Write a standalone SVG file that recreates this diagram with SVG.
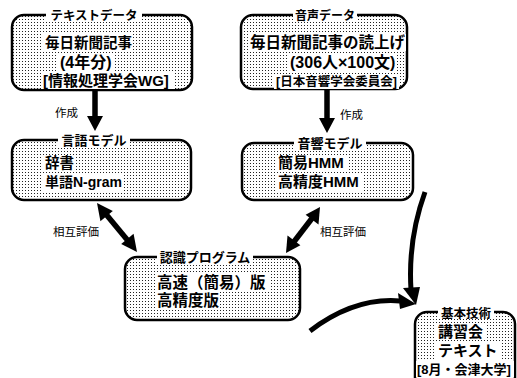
<svg xmlns="http://www.w3.org/2000/svg" width="517" height="378" viewBox="0 0 517 378">
<defs>
<pattern id="dots" width="3" height="3" patternUnits="userSpaceOnUse">
<rect x="0" y="0" width="3" height="3" fill="#fff"/>
<rect x="1" y="1" width="1" height="1" fill="#222"/>
</pattern>
<style>
.box{fill:url(#dots);stroke:#000;stroke-width:2.5}
.bg{fill:#fff}
.t{font-family:"Liberation Sans","Noto Sans CJK JP",sans-serif;font-weight:bold;font-size:15px;fill:#000}
.tt{font-family:"Liberation Sans","Noto Sans CJK JP",sans-serif;font-weight:bold;font-size:13px;fill:#000;text-anchor:middle}
.lb{font-family:"Noto Sans CJK JP",sans-serif;font-size:11.5px;fill:#000}
.sh{stroke:#000;stroke-width:5.5;fill:none}
.cv{stroke:#000;stroke-width:5;fill:none;stroke-linecap:butt}
.hd{fill:#000}
</style>
</defs>
<rect width="517" height="378" fill="#fff"/>

<g id="node-text-data">
<rect class="box" x="12" y="15" width="180" height="75" rx="12"/>
<rect class="bg" x="46" y="8" width="96" height="14"/>
<text class="tt" x="94" y="20" style="font-size:12.5px">テキストデータ</text>
<rect class="bg" x="43" y="34" width="89" height="16"/>
<text class="t" x="45" y="47.5" style="font-size:14.5px">毎日新聞記事</text>
<rect class="bg" x="58" y="53" width="57" height="18"/>
<text class="t" x="60" y="67.5" style="font-size:16px">(4年分)</text>
<rect class="bg" x="41" y="72" width="134" height="17"/>
<text class="t" x="43" y="85.5" style="font-size:15px">[情報処理学会WG]</text>
</g>

<g id="node-voice-data">
<rect class="box" x="241" y="15" width="166" height="74" rx="12"/>
<rect class="bg" x="293" y="8" width="64" height="14"/>
<text class="tt" x="325" y="20" style="font-size:12px">音声データ</text>
<rect class="bg" x="248" y="34" width="158" height="17"/>
<text class="t" x="250" y="48" style="font-size:15.5px">毎日新聞記事の読上げ</text>
<rect class="bg" x="288" y="53" width="109" height="18"/>
<text class="t" x="290" y="67.5" style="font-size:16px">(306人×100文)</text>
<rect class="bg" x="274" y="74" width="125" height="15"/>
<text class="t" x="276" y="86" style="font-size:12.5px">[日本音響学会委員会]</text>
</g>

<g id="node-language-model">
<rect class="box" x="12" y="140" width="179" height="60" rx="12"/>
<rect class="bg" x="58" y="133" width="72" height="14"/>
<text class="tt" x="94" y="145">言語モデル</text>
<rect class="bg" x="43" y="155" width="32" height="16"/>
<text class="t" x="45" y="168" style="font-size:14.5px">辞書</text>
<rect class="bg" x="43" y="174" width="80" height="17"/>
<text class="t" x="45" y="187" style="font-size:14px">単語N-gram</text>
</g>

<g id="node-acoustic-model">
<rect class="box" x="242" y="143" width="171" height="57" rx="12"/>
<rect class="bg" x="294" y="136" width="72" height="14"/>
<text class="tt" x="330" y="148">音響モデル</text>
<rect class="bg" x="276" y="155" width="72" height="16"/>
<text class="t" x="278" y="168">簡易HMM</text>
<rect class="bg" x="276" y="174" width="86" height="17"/>
<text class="t" x="278" y="187">高精度HMM</text>
</g>

<g id="node-recognition">
<rect class="box" x="125" y="257" width="175" height="63" rx="12"/>
<rect class="bg" x="157" y="250" width="96" height="14"/>
<text class="tt" x="205" y="261.5">認識プログラム</text>
<rect class="bg" x="155" y="274" width="114" height="17"/>
<text class="t" x="157" y="288" style="font-size:15.5px">高速（簡易）版</text>
<rect class="bg" x="155" y="292" width="64" height="17"/>
<text class="t" x="157" y="306" style="font-size:15.5px">高精度版</text>
</g>

<g id="node-basic-tech">
<rect class="box" x="415" y="312" width="100" height="80" rx="12"/>
<rect class="bg" x="438" y="305" width="56" height="14"/>
<text class="tt" x="466" y="317.5" style="font-size:12.5px">基本技術</text>
<rect class="bg" x="436" y="323" width="50" height="17"/>
<text class="t" x="438" y="337">講習会</text>
<rect class="bg" x="436" y="342" width="66" height="17"/>
<text class="t" x="438" y="356">テキスト</text>
<rect class="bg" x="416" y="361" width="98" height="16"/>
<text class="t" x="417" y="374" style="font-size:13px">[8月・会津大学]</text>
</g>

<g id="connectors">
<line class="sh" x1="95" y1="91" x2="95" y2="118"/>
<polygon class="hd" points="87,116 103,116 95,131"/>
<text class="lb" x="55" y="117">作成</text>

<line class="sh" x1="327" y1="90" x2="327" y2="120"/>
<polygon class="hd" points="319,118 335,118 327,133"/>
<text class="lb" x="340" y="119">作成</text>

<line class="sh" x1="105" y1="213" x2="129" y2="242"/>
<polygon class="hd" points="97,203 100.4,221.2 112.8,210.9"/>
<polygon class="hd" points="137,252 133.6,233.8 121.2,244.1"/>
<text class="lb" x="53" y="236">相互評価</text>

<line class="sh" x1="313" y1="217" x2="293" y2="243"/>
<polygon class="hd" points="320,207 318.5,224.5 305.6,214.7"/>
<polygon class="hd" points="286,253 287.5,235.5 300.4,245.3"/>
<text class="lb" x="320" y="236">相互評価</text>

<path class="cv" d="M425,192 C413,225 409,258 411,290"/>
<polygon class="hd" points="403,288 420,287 416,305"/>
<path class="cv" d="M310,331 C335,312 365,298 400,301"/>
<polygon class="hd" points="398,293 400,309 416,304"/>
</g>
</svg>
